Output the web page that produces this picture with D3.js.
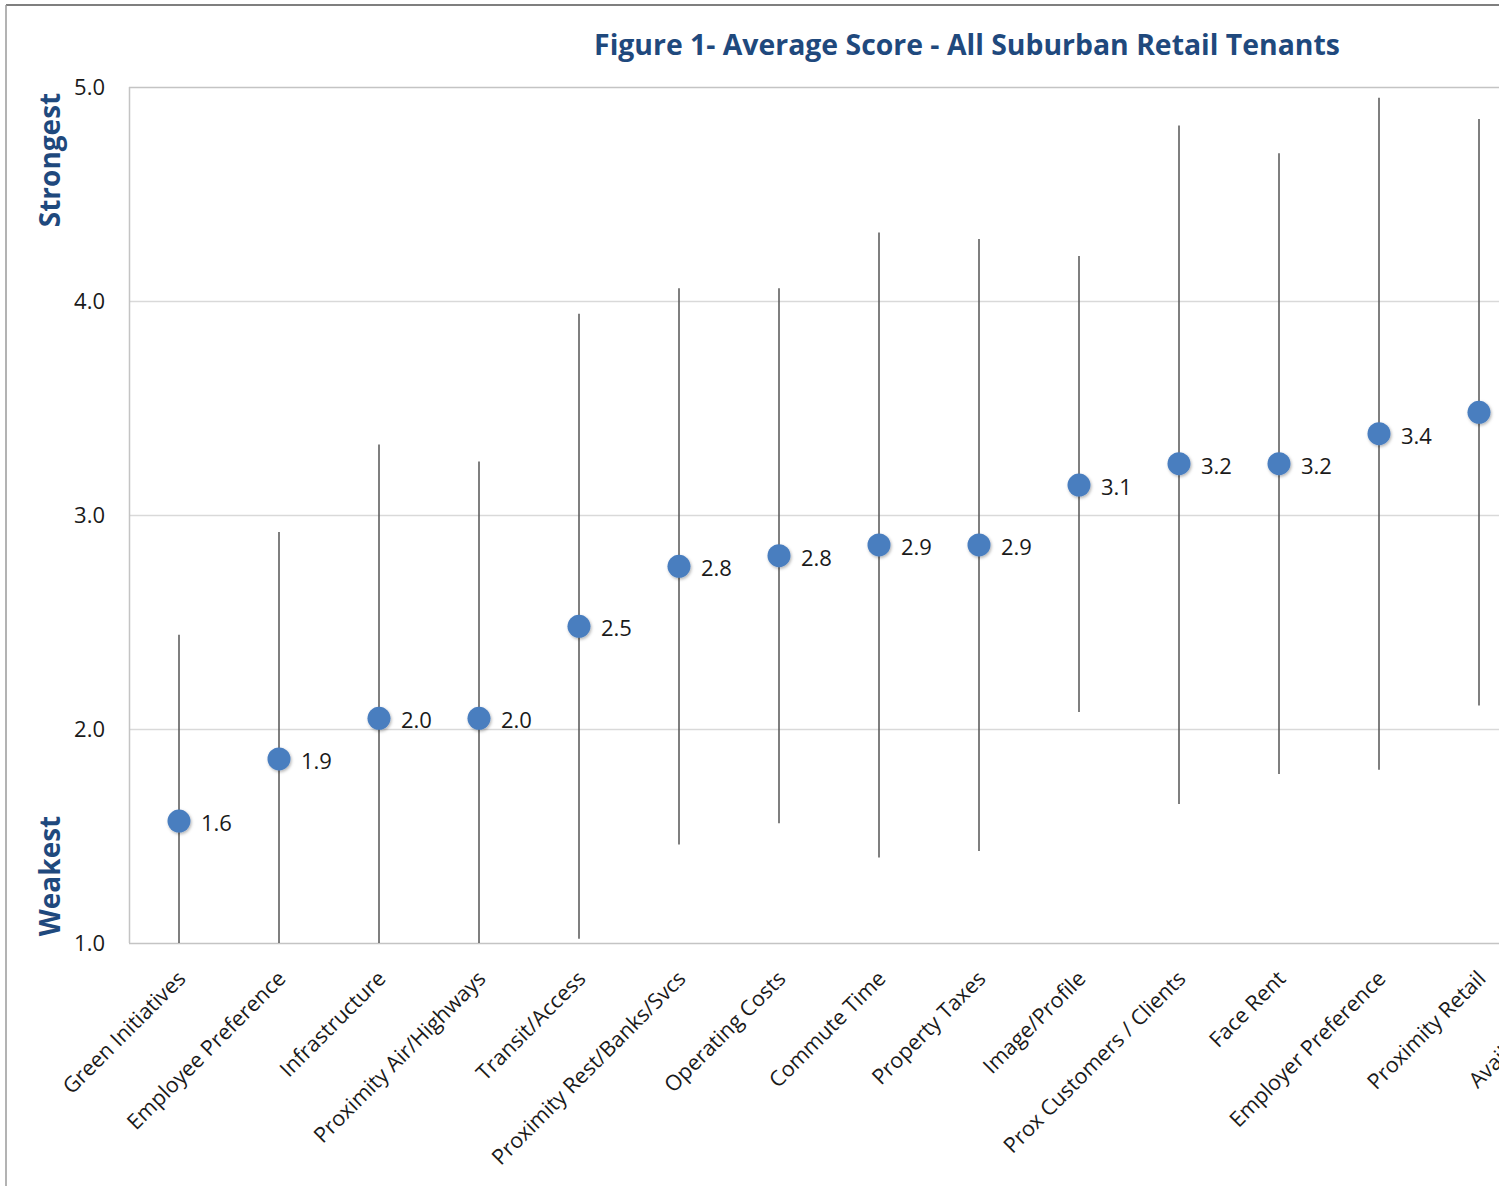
<!DOCTYPE html>
<html>
<head>
<meta charset="utf-8">
<script src="https://cdn.jsdelivr.net/npm/d3@7"></script>
<style>
  body { margin: 0; background: #fff; }
  svg { display: block; }
</style>
</head>
<body>
<div id="chart"></div>
<script>
// data
var categories = ["Green Initiatives", "Employee Preference", "Infrastructure",
  "Proximity Air/Highways", "Transit/Access", "Proximity Rest/Banks/Svcs",
  "Operating Costs", "Commute Time", "Property Taxes", "Image/Profile",
  "Prox Customers / Clients", "Face Rent", "Employer Preference",
  "Proximity Retail", "Available Space"];
var avgScore = [1.57, 1.86, 2.05, 2.05, 2.48, 2.76, 2.81, 2.86, 2.86, 3.14, 3.24, 3.24, 3.38, 3.48, 3.55];
var highVals = [2.44, 2.92, 3.33, 3.25, 3.94, 4.06, 4.06, 4.32, 4.29, 4.21, 4.82, 4.69, 4.95, 4.85, 4.90];
var lowVals  = [0.70, 0.79, 0.77, 0.85, 1.02, 1.46, 1.56, 1.40, 1.43, 2.08, 1.65, 1.79, 1.81, 2.11, 2.20];
var yTicks = [1, 2, 3, 4, 5];

var svgWidth = 1499;
var svgHeight = 1186;

var margin = {top: 87, left: 129, bottom: 243};
var chartHeight = svgHeight - margin.top - margin.bottom;
var chartWidth = categories.length * 100;

var svg = d3.select("#chart").append("svg")
  .attr("width", svgWidth)
  .attr("height", svgHeight);

// outer frame (top and left edges show)
svg.append("line").attr("x1", 6).attr("x2", svgWidth).attr("y1", 5).attr("y2", 5)
  .attr("stroke", "#7f7f7f").attr("stroke-width", 2);
svg.append("line").attr("x1", 6).attr("x2", 6).attr("y1", 5).attr("y2", svgHeight)
  .attr("stroke", "#9a9a9a").attr("stroke-width", 1.5);

var data = categories.map(function(c, i) {
  return {name: c, avg: avgScore[i], hi: highVals[i], lo: lowVals[i]};
});

var xScale = d3.scaleBand()
  .domain(categories)
  .range([0, chartWidth]);

var yScale = d3.scaleLinear()
  .domain([1, 5])
  .range([chartHeight, 0]);

var chartGroup = svg.append("g")
  .attr("transform", `translate(${margin.left}, ${margin.top})`);

chartGroup.append("clipPath").attr("id", "plotClip")
  .append("rect").attr("x", 0).attr("y", 0)
  .attr("width", chartWidth).attr("height", chartHeight);

// gridlines
chartGroup.append("g").selectAll("line")
  .data(yTicks)
  .enter()
  .append("line")
  .attr("x1", 0)
  .attr("x2", chartWidth)
  .attr("y1", d => Math.round(yScale(d)) + 0.5)
  .attr("y2", d => Math.round(yScale(d)) + 0.5)
  .attr("stroke", d => (d === 1 || d === 5) ? "#c4c4c4" : "#d9d9d9")
  .attr("stroke-width", 1.5);

// left axis line
chartGroup.append("line")
  .attr("x1", 0.5).attr("x2", 0.5)
  .attr("y1", 0).attr("y2", chartHeight)
  .attr("stroke", "#c4c4c4").attr("stroke-width", 1.5);

// y tick labels
var yAxis = d3.axisLeft(yScale).tickValues(yTicks).tickFormat(d3.format(".1f")).tickSize(0).tickPadding(24);
var yAxisG = chartGroup.append("g").call(yAxis);
yAxisG.select(".domain").remove();
yAxisG.selectAll("text")
  .style("font", "22px 'Open Sans', sans-serif")
  .attr("fill", "#1a1a1a");

// whiskers
chartGroup.append("g").attr("clip-path", "url(#plotClip)")
  .selectAll("line")
  .data(data)
  .enter()
  .append("line")
  .attr("x1", d => xScale(d.name) + xScale.bandwidth() / 2)
  .attr("x2", d => xScale(d.name) + xScale.bandwidth() / 2)
  .attr("y1", d => yScale(d.hi))
  .attr("y2", d => yScale(d.lo))
  .attr("stroke", "#555")
  .attr("stroke-width", 1.5);

// points with a soft shadow
var defs = svg.append("defs");
var filt = defs.append("filter").attr("id", "shadow").attr("x", "-50%").attr("y", "-50%").attr("width", "200%").attr("height", "200%");
filt.append("feDropShadow").attr("dx", 1).attr("dy", 1.5).attr("stdDeviation", 1.5).attr("flood-color", "#000").attr("flood-opacity", 0.3);

chartGroup.append("g").selectAll("circle")
  .data(data)
  .enter()
  .append("circle")
  .attr("cx", d => xScale(d.name) + xScale.bandwidth() / 2)
  .attr("cy", d => yScale(d.avg))
  .attr("r", 11.5)
  .attr("fill", "#4a7ebf")
  .attr("filter", "url(#shadow)");

// value labels
chartGroup.append("g").selectAll("text")
  .data(data)
  .enter()
  .append("text")
  .attr("x", d => xScale(d.name) + xScale.bandwidth() / 2 + 22)
  .attr("y", d => yScale(d.avg) + 10)
  .style("font", "22px 'Open Sans', sans-serif")
  .attr("fill", "#1a1a1a")
  .text(d => d3.format(".1f")(d.avg));

// category labels
chartGroup.append("g").selectAll("text")
  .data(data)
  .enter()
  .append("text")
  .attr("text-anchor", "end")
  .attr("transform", d => `translate(${xScale(d.name) + xScale.bandwidth() / 2 + 8}, ${chartHeight + 37}) rotate(-45)`)
  .style("font", "21.5px 'Open Sans', sans-serif")
  .attr("fill", "#1a1a1a")
  .text(d => d.name);

// title
svg.append("text")
  .attr("x", 967)
  .attr("y", 55)
  .attr("text-anchor", "middle")
  .style("font", "bold 28.4px 'Open Sans', sans-serif")
  .attr("fill", "#1f497d")
  .text("Figure 1- Average Score - All Suburban Retail Tenants");

// Strongest / Weakest side labels
svg.append("text")
  .attr("transform", "translate(60, 160) rotate(-90)")
  .attr("text-anchor", "middle")
  .style("font", "bold 28px 'Open Sans', sans-serif")
  .attr("fill", "#1f497d")
  .text("Strongest");

svg.append("text")
  .attr("transform", "translate(60, 876) rotate(-90)")
  .attr("text-anchor", "middle")
  .style("font", "bold 28px 'Open Sans', sans-serif")
  .attr("fill", "#1f497d")
  .text("Weakest");
</script>
</body>
</html>
